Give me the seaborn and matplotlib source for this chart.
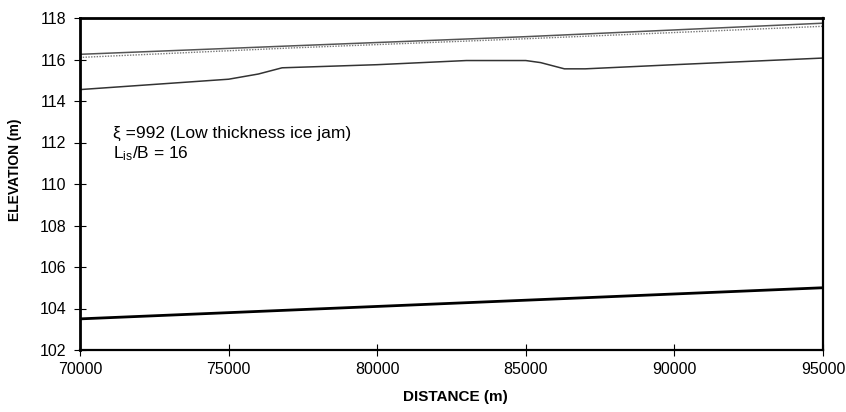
import matplotlib
matplotlib.use("Agg")
import matplotlib.pyplot as plt
import numpy as np
import pandas as pd
import seaborn as sns

# ---- data ----
dist_ws = [70000, 77000, 85000, 95000]
elev_ws = [116.25, 116.65, 117.1, 117.75]          # upper solid line

dist_dot = [70000, 77000, 85000, 95000]
elev_dot = [116.1, 116.55, 117.0, 117.6]           # dotted line

dist_ice = [70000, 73000, 75000, 76000, 76800, 80000, 83000, 85000,
            85500, 86300, 87000, 90000, 95000]
elev_ice = [114.55, 114.85, 115.05, 115.3, 115.6, 115.75, 115.95, 115.95,
            115.85, 115.55, 115.55, 115.75, 116.07]  # ice underside line

dist_bed = [70000, 80000, 90000, 95000]
elev_bed = [103.5, 104.1, 104.7, 105.0]             # bed line

x_ticks = [70000, 75000, 80000, 85000, 90000, 95000]
y_ticks = [102, 104, 106, 108, 110, 112, 114, 116, 118]

sns.set_style("white")
plt.rcParams['font.family'] = ['Liberation Sans', 'DejaVu Sans']
plt.rcParams['mathtext.fontset'] = 'custom'
plt.rcParams['mathtext.rm'] = 'Liberation Sans'
plt.rcParams['mathtext.it'] = 'Liberation Sans'
plt.rcParams['text.color'] = 'black'
plt.rcParams['axes.labelcolor'] = 'black'
plt.rcParams['xtick.color'] = 'black'
plt.rcParams['ytick.color'] = 'black'

fig = plt.figure(figsize=(8.46, 4.12), dpi=100)
ax = fig.add_axes([80 / 846, 62 / 412, 743 / 846, 332 / 412])

sns.lineplot(x=dist_ws, y=elev_ws, ax=ax, color="#555555", lw=1.1,
             estimator=None, sort=False)
sns.lineplot(x=dist_dot, y=elev_dot, ax=ax, color="#777777", lw=1.0,
             linestyle=(0, (1, 1)), estimator=None, sort=False)
sns.lineplot(x=dist_ice, y=elev_ice, ax=ax, color="#333333", lw=1.1,
             estimator=None, sort=False)
sns.lineplot(x=dist_bed, y=elev_bed, ax=ax, color="black", lw=2.0,
             estimator=None, sort=False)

ax.set_xlim(70000, 95000)
ax.set_ylim(102, 118)
ax.set_xticks(x_ticks)
ax.set_yticks(y_ticks)
ax.set_xticklabels([str(v) for v in x_ticks])
ax.set_yticklabels([str(v) for v in y_ticks])
ax.tick_params(axis='both', direction='inout', length=8, width=0.8,
               colors='black', labelcolor='black', labelsize=11.5)
ax.tick_params(axis='y', pad=6)
ax.tick_params(axis='x', pad=5)
ax.tick_params(left=True, bottom=True)

for side, lw in [('top', 2.0), ('left', 2.0), ('bottom', 1.6), ('right', 1.6)]:
    ax.spines[side].set_visible(True)
    ax.spines[side].set_color('black')
    ax.spines[side].set_linewidth(lw)

ax.set_xlabel("DISTANCE (m)", fontsize=11, fontweight='bold', color='black')
ax.set_ylabel("ELEVATION (m)", fontsize=10, fontweight='bold', color='black')
ax.xaxis.set_label_coords(0.505, -0.12)
ax.yaxis.set_label_coords(-0.078, 0.542)

ax.text(0.044, 0.6386, "ξ =992 (Low thickness ice jam)", transform=ax.transAxes,
        fontsize=12.5, va='baseline', ha='left', color='black')
ax.text(0.044, 0.578, r"L$_{\mathrm{is}}$/B = 16", transform=ax.transAxes,
        fontsize=12.5, va='baseline', ha='left', color='black')

fig.savefig("out.png", dpi=100)
